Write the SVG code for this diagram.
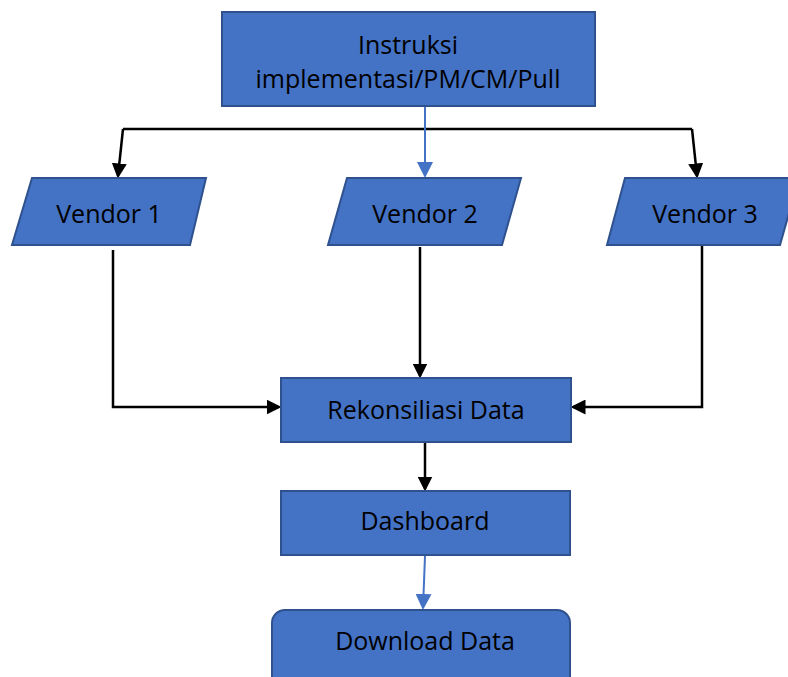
<svg xmlns="http://www.w3.org/2000/svg" width="788" height="677" viewBox="0 0 788 677">
<style>
.n{fill:#4472C4;stroke:#2F528F;stroke-width:2}
.t{font-family:"Open Sans","Liberation Sans",sans-serif;font-size:25px;fill:#000;text-anchor:middle}
.k{fill:none;stroke:#000;stroke-width:2.5}
.b{fill:none;stroke:#4472C4;stroke-width:2}
</style>
<defs>
<marker id="ak" markerWidth="6" markerHeight="6" refX="5" refY="3" orient="auto" markerUnits="strokeWidth"><path d="M0,0 L6,3 L0,6 z" fill="#000"/></marker>
<marker id="ab" markerWidth="8" markerHeight="8" refX="7" refY="4" orient="auto" markerUnits="strokeWidth"><path d="M0,0 L8,4 L0,8 z" fill="#4472C4"/></marker>
</defs>
<rect width="788" height="677" fill="#fff"/>
<g id="connectors">
<path class="k" d="M123,129 H692"/>
<path class="k" d="M123,129 L118,176" marker-end="url(#ak)"/>
<path class="k" d="M692,129 L697,176" marker-end="url(#ak)"/>
<path class="b" d="M425,106 V176" marker-end="url(#ab)"/>
<path class="k" d="M113,250 V407 H279" marker-end="url(#ak)"/>
<path class="k" d="M420,247 V376" marker-end="url(#ak)"/>
<path class="k" d="M702,245 V407 H573" marker-end="url(#ak)"/>
<path class="k" d="M425,443 V489" marker-end="url(#ak)"/>
<path class="b" d="M425,556 L423,608" marker-end="url(#ab)"/>
</g>
<g id="instruksi">
<rect class="n" x="222" y="12" width="373" height="94"/>
<text class="t" x="408" y="54">Instruksi</text>
<text class="t" x="408" y="88">implementasi/PM/CM/Pull</text>
</g>
<g id="vendor1">
<polygon class="n" points="32,178 206,178 190,245 12,245"/>
<text class="t" x="109" y="223">Vendor 1</text>
</g>
<g id="vendor2">
<polygon class="n" points="347,178 521,178 502,245 328,245"/>
<text class="t" x="425" y="223">Vendor 2</text>
</g>
<g id="vendor3">
<polygon class="n" points="625,178 799,178 780,245 607,245"/>
<text class="t" x="705" y="223">Vendor 3</text>
</g>
<g id="rekonsiliasi">
<rect class="n" x="281" y="378" width="290" height="64"/>
<text class="t" x="426" y="419">Rekonsiliasi Data</text>
</g>
<g id="dashboard">
<rect class="n" x="281" y="491" width="289" height="64"/>
<text class="t" x="425" y="530">Dashboard</text>
</g>
<g id="download">
<rect class="n" x="272" y="610" width="298" height="80" rx="13"/>
<text class="t" x="425" y="650">Download Data</text>
</g>
</svg>
